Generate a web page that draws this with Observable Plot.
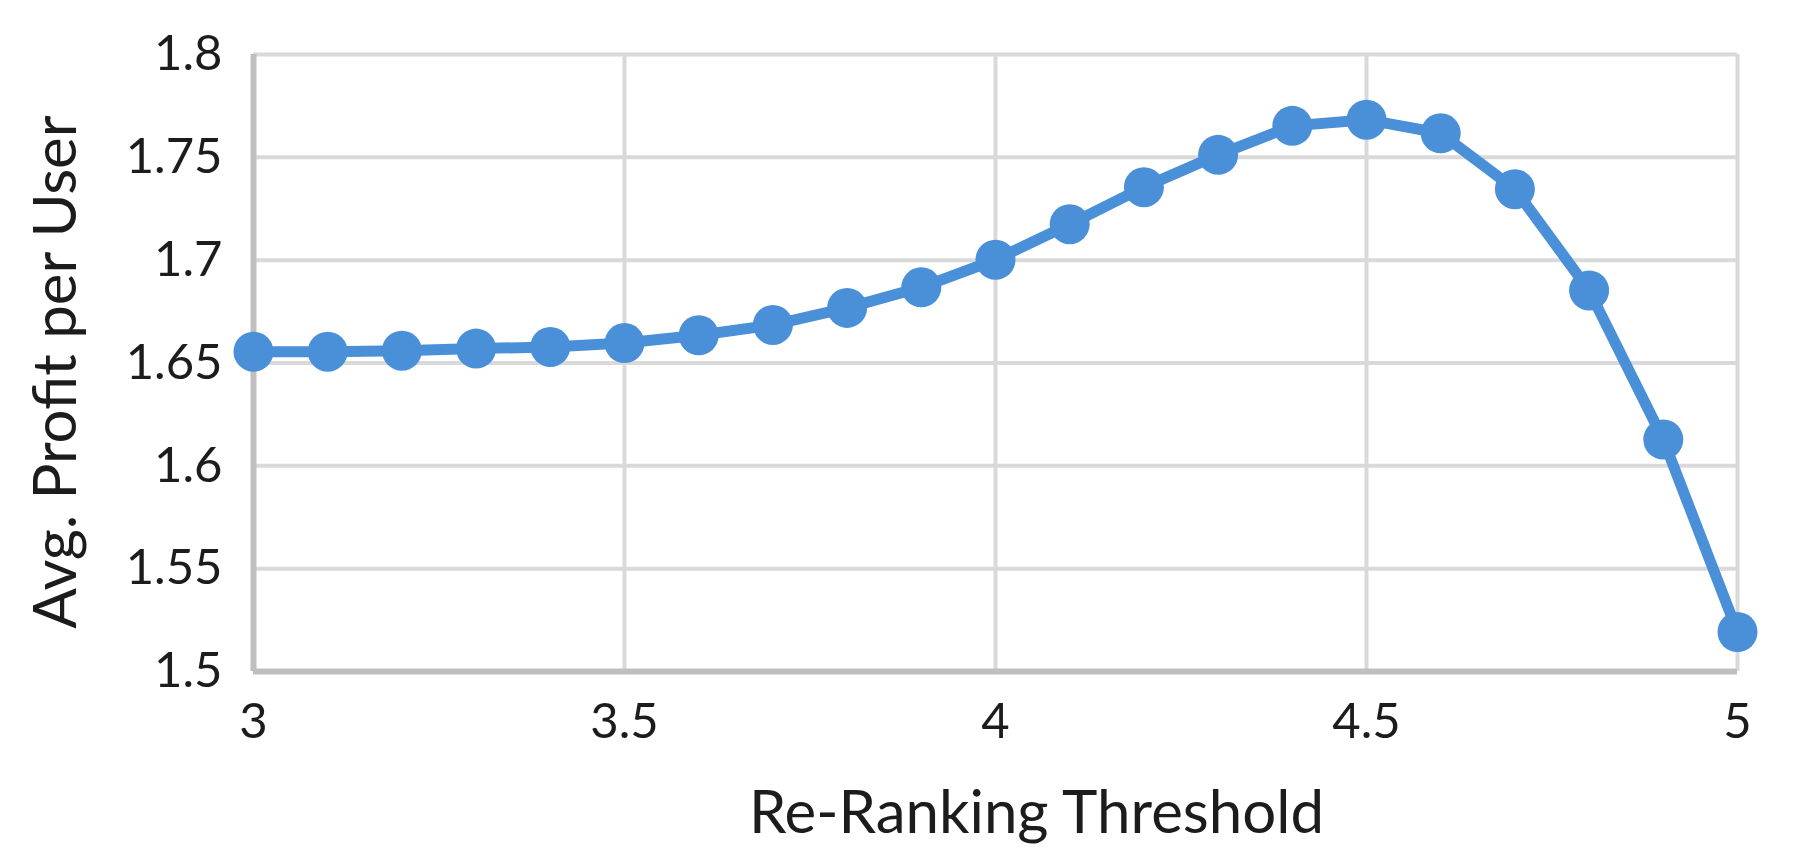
<!DOCTYPE html>
<html>
<head>
<meta charset="utf-8">
<script src="https://cdn.jsdelivr.net/npm/d3@7"></script>
<script src="https://cdn.jsdelivr.net/npm/@observablehq/plot@0.6"></script>
<style>
  html, body { margin: 0; padding: 0; background: #ffffff; }
  #chart { width: 1794px; height: 867px; }
</style>
</head>
<body>
<div id="chart"></div>
<script>
// Data
const thresholds = [3.0, 3.1, 3.2, 3.3, 3.4, 3.5, 3.6, 3.7, 3.8, 3.9, 4.0, 4.1, 4.2, 4.3, 4.4, 4.5, 4.6, 4.7, 4.8, 4.9, 5.0];
const profits = [1.6555, 1.6555, 1.656, 1.657, 1.6578, 1.6597, 1.6635, 1.6685, 1.6768, 1.6868, 1.7002, 1.7175, 1.7355, 1.7512, 1.7653, 1.7683, 1.7617, 1.7345, 1.6853, 1.6128, 1.5192];
const xTicks = [3, 3.5, 4, 4.5, 5];
const yTicks = [1.5, 1.55, 1.6, 1.65, 1.7, 1.75, 1.8];
const xTitle = "Re-Ranking Threshold";
const yTitle = "Avg. Profit per User";

const data = thresholds.map((t, i) => ({ t, p: profits[i] }));

const chart = Plot.plot({
  width: 1794,
  height: 867,
  marginLeft: 253,
  marginRight: 57,
  marginTop: 54,
  marginBottom: 196,
  style: { fontFamily: "Lato, sans-serif", background: "#ffffff", color: "#1c1c1c", overflow: "visible" },
  x: { domain: [3, 5] },
  y: { domain: [1.5, 1.8] },
  marks: [
    Plot.gridY(yTicks.slice(1), { stroke: "#d9d9d9", strokeOpacity: 1, strokeWidth: 4 }),
    Plot.gridX(xTicks.slice(1), { stroke: "#d9d9d9", strokeOpacity: 1, strokeWidth: 4 }),
    Plot.ruleX([xTicks[0]], { stroke: "#bfbfbf", strokeWidth: 6 }),
    Plot.ruleY([yTicks[0]], { stroke: "#bfbfbf", strokeWidth: 6 }),
    Plot.axisX(xTicks, { tickSize: 0, tickPadding: 32, fontSize: 49, label: null, tickFormat: d => `${d}` }),
    Plot.axisY(yTicks, { tickSize: 0, tickPadding: 31, fontSize: 49, label: null, tickFormat: d => `${d}` }),
    Plot.line(data, { x: "t", y: "p", stroke: "#4a90d9", strokeWidth: 11 }),
    Plot.dot(data, { x: "t", y: "p", r: 20, fill: "#4a90d9" }),
    Plot.text([xTitle], { frameAnchor: "bottom", dx: 41, dy: 142, fontSize: 60, lineAnchor: "middle", textAnchor: "middle", fill: "#1c1c1c" }),
    Plot.text([yTitle], { frameAnchor: "left", dx: -197, dy: 9, rotate: -90, fontSize: 60, lineAnchor: "middle", textAnchor: "middle", fill: "#1c1c1c" })
  ]
});

document.getElementById("chart").appendChild(chart);
</script>
</body>
</html>
